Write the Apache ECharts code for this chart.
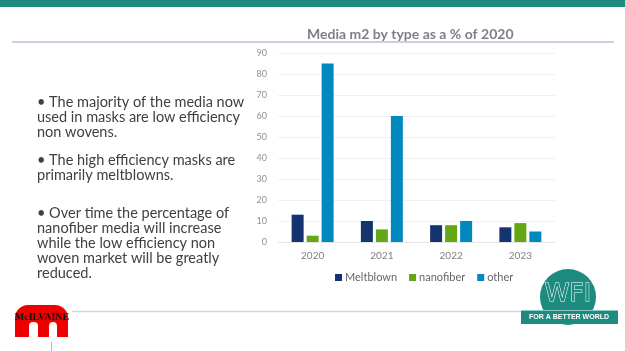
<!DOCTYPE html>
<html>
<head>
<meta charset="utf-8">
<script src="https://cdn.jsdelivr.net/npm/echarts@6/dist/echarts.min.js"></script>
<style>
  html, body { margin: 0; padding: 0; background: #fff; }
  #chart { width: 625px; height: 351px; }
</style>
</head>
<body>
<div id="chart"></div>
<script>
// data
const years = ['2020', '2021', '2022', '2023']
const meltblown = [13, 10, 8, 7]
const nanofiber = [3, 6, 8, 9]
const other = [85, 60, 10, 5]

const bullets = [
  ['• The majority of the media now', 'used in masks are low efficiency', 'non wovens.'],
  ['• The high efficiency masks are', 'primarily meltblowns.'],
  ['• Over time the percentage of', 'nanofiber media will increase', 'while the low efficiency non', 'woven market will be greatly', 'reduced.']
]
const bulletTops = [102, 160, 213]

const chart = echarts.init(document.getElementById('chart'))

// slide text as graphic elements
const textEls = []
bullets.forEach((lines, i) => {
  lines.forEach((line, j) => {
    textEls.push({
      type: 'text',
      x: 37,
      y: bulletTops[i] + j * 15,
      style: { text: line, fill: '#404040', font: '14.5px Lato', verticalAlign: 'middle' }
    })
  })
})

const teal = '#1d8b80'

const barSeries = (name, data, color) => ({
  name,
  type: 'bar',
  data,
  barWidth: 12,
  barGap: '25%',
  itemStyle: { color }
})

chart.setOption({
  animation: false,
  title: {
    text: 'Media m2 by type as a % of 2020',
    left: 302,
    top: 22,
    textStyle: { color: '#808080', fontSize: 14, fontWeight: 'bold', fontFamily: 'Lato' }
  },
  legend: {
    data: ['Meltblown', 'nanofiber', 'other'],
    left: 330,
    top: 267,
    itemWidth: 7,
    itemHeight: 7,
    itemGap: 12,
    icon: 'rect',
    textStyle: { color: '#666', fontSize: 11, fontFamily: 'Lato', padding: [0, 0, 0, -2] }
  },
  grid: { left: 278, right: 70, top: 53, bottom: 109 },
  xAxis: {
    type: 'category',
    data: years,
    axisLine: { lineStyle: { color: '#e6e6e6' } },
    axisTick: { show: false },
    axisLabel: { color: '#808080', fontSize: 10, fontFamily: 'Lato', margin: 9 }
  },
  yAxis: {
    type: 'value',
    min: 0,
    max: 90,
    interval: 10,
    axisLine: { show: false },
    axisTick: { show: false },
    splitLine: { lineStyle: { color: '#f0f0f0' } },
    axisLabel: { color: '#909090', fontSize: 9, fontFamily: 'Lato', margin: 11 }
  },
  series: [
    barSeries('Meltblown', meltblown, '#13346f'),
    barSeries('nanofiber', nanofiber, '#63a814'),
    barSeries('other', other, '#0089be')
  ],
  graphic: [
    // top band
    { type: 'rect', shape: { x: 0, y: 0, width: 625, height: 7 }, style: { fill: teal } },
    // line under title
    { type: 'line', shape: { x1: 12, y1: 42, x2: 614, y2: 42 }, style: { stroke: '#c9d0de', lineWidth: 2 } },
    // footer line
    { type: 'line', shape: { x1: 72, y1: 311.5, x2: 540, y2: 311.5 }, style: { stroke: '#c3dcdc', lineWidth: 1.5 } },
    { type: 'line', shape: { x1: 51.5, y1: 342, x2: 51.5, y2: 351 }, style: { stroke: '#bbb', lineWidth: 1 } },
    // McIlvaine logo
    { type: 'rect', shape: { x: 15, y: 305, width: 53, height: 32, r: [13, 13, 0, 0] }, style: { fill: '#ee0000' } },
    { type: 'rect', shape: { x: 29, y: 322, width: 9, height: 16, r: [4, 4, 0, 0] }, style: { fill: '#fff' } },
    { type: 'rect', shape: { x: 49, y: 322, width: 8, height: 16, r: [4, 4, 0, 0] }, style: { fill: '#fff' } },
    {
      type: 'text', x: 42, y: 317,
      style: { text: 'McILVAINE', fill: '#111', font: 'bold 10px "Liberation Serif"', align: 'center', verticalAlign: 'middle' }
    },
    // WFI logo
    { type: 'circle', shape: { cx: 568, cy: 297, r: 28 }, style: { fill: teal } },
    { type: 'rect', shape: { x: 521, y: 310, width: 97, height: 14 }, style: { fill: teal } },
    { type: 'line', shape: { x1: 521, y1: 310.5, x2: 618, y2: 310.5 }, style: { stroke: '#8cc7c1', lineWidth: 1 } },
    {
      type: 'text', x: 568, y: 294,
      style: {
        text: 'WFI', fill: teal, stroke: '#fff', lineWidth: 1,
        font: '25px "DejaVu Sans"', align: 'center', verticalAlign: 'middle'
      }
    },
    {
      type: 'text', x: 569, y: 317,
      style: {
        text: 'FOR A BETTER WORLD', fill: '#fff',
        font: 'bold 7px "Liberation Sans"', align: 'center', verticalAlign: 'middle'
      }
    }
  ].concat(textEls)
})
</script>
</body>
</html>
